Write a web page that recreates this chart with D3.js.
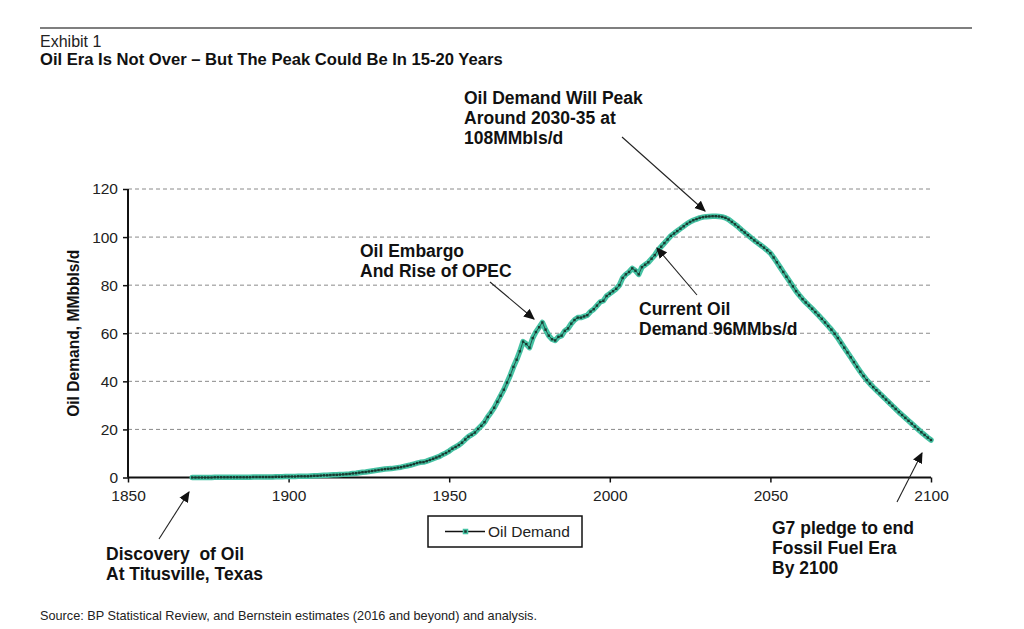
<!DOCTYPE html>
<html>
<head>
<meta charset="utf-8">
<script src="https://cdn.jsdelivr.net/npm/d3@7"></script>
<style>
  body { margin: 0; background: #fff; }
  svg { display: block; font-family: "Liberation Sans", Arial, sans-serif; }
</style>
</head>
<body>
<div id="chart"></div>
<script>
// Data
var startYear = 1870;
var demand = [
  0.0, 0.0, 0.0, 0.0, 0.0, 0.0, 0.0, 0.1, 0.1, 0.1,
  0.1, 0.1, 0.1, 0.1, 0.1, 0.1, 0.1, 0.1, 0.1, 0.2,
  0.2, 0.2, 0.2, 0.2, 0.2, 0.2, 0.3, 0.3, 0.3, 0.4,
  0.4, 0.4, 0.4, 0.5, 0.5, 0.5, 0.5, 0.6, 0.7, 0.7,
  0.8, 0.9, 0.9, 1.0, 1.1, 1.1, 1.2, 1.3, 1.4, 1.5,
  1.7, 1.8, 2.0, 2.2, 2.3, 2.5, 2.7, 2.9, 3.1, 3.3,
  3.5, 3.6, 3.7, 3.9, 4.1, 4.3, 4.6, 4.9, 5.2, 5.6,
  6.0, 6.3, 6.4, 6.8, 7.3, 7.8, 8.3, 8.8, 9.6, 10.2,
  11.0, 12.0, 12.7, 13.5, 14.5, 15.8, 17.0, 17.8, 18.7, 20.2,
  21.5, 23.0, 25.2, 27.0, 29.0, 31.5, 34.0, 36.5, 39.5, 42.5,
  46.0, 49.0, 52.5, 56.5, 55.5, 54.0, 58.0, 60.5, 62.5, 64.5,
  61.5, 59.0, 57.5, 57.0, 58.5, 59.0, 61.0, 62.0, 64.0, 65.5,
  66.5, 66.5, 67.0, 67.5, 69.0, 70.0, 71.5, 73.0, 73.5, 75.5,
  76.5, 77.5, 78.5, 80.0, 83.0, 84.5, 85.5, 87.0, 86.0, 84.5,
  87.5, 88.5, 89.5, 91.0, 92.5, 94.5, 96.0, 97.5, 99.0, 100.5,
  101.5, 102.5, 103.5, 104.5, 105.5, 106.3, 107.0, 107.5, 108.0, 108.3,
  108.5, 108.6, 108.7, 108.7, 108.6, 108.4, 108.0, 107.3, 106.3, 105.3,
  104.2, 103.0, 101.9, 100.8, 99.7, 98.6, 97.6, 96.6, 95.6, 94.5,
  93.3, 91.5, 89.5, 87.5, 85.5, 83.5, 81.5, 79.5, 77.5, 75.8,
  74.2, 72.8, 71.5, 70.2, 68.8, 67.4, 66.0, 64.5, 63.0, 61.5,
  59.8, 58.0, 56.0, 54.0, 52.0, 50.0, 48.0, 46.0, 44.0, 42.2,
  40.5, 39.0, 37.6, 36.3, 35.0, 33.7, 32.4, 31.1, 29.8, 28.5,
  27.2, 26.0, 24.8, 23.6, 22.4, 21.2, 20.0, 18.8, 17.7, 16.6,
  15.6
];
var xTicks = [1850, 1900, 1950, 2000, 2050, 2100];
var yTicks = [0, 20, 40, 60, 80, 100, 120];
var seriesName = "Oil Demand";

var exhibitLabel = "Exhibit 1";
var titleText = "Oil Era Is Not Over \u2013 But The Peak Could Be In 15-20 Years";
var yLabel = "Oil Demand, MMbbls/d";
var sourceText = "Source: BP Statistical Review, and Bernstein estimates (2016 and beyond) and analysis.";

var notePeak = ["Oil Demand Will Peak", "Around 2030-35 at", "108MMbls/d"];
var noteEmbargo = ["Oil Embargo", "And Rise of OPEC"];
var noteCurrent = ["Current Oil", "Demand 96MMbs/d"];
var noteG7 = ["G7 pledge to end", "Fossil Fuel Era", "By 2100"];
var noteDiscovery = ["Discovery  of Oil", "At Titusville, Texas"];

var points = demand.map(function(v, i) { return { year: startYear + i, value: v }; });

var svgWidth = 1024;
var svgHeight = 629;
var margin = { top: 189, left: 128, right: 93, bottom: 151.5 };
var width = svgWidth - margin.left - margin.right;
var height = svgHeight - margin.top - margin.bottom;

var svg = d3.select("#chart")
  .append("svg")
  .attr("width", svgWidth)
  .attr("height", svgHeight);

// arrow head
svg.append("defs").append("marker")
  .attr("id", "arrow")
  .attr("viewBox", "0 0 10 10")
  .attr("refX", 9)
  .attr("refY", 5)
  .attr("markerWidth", 11)
  .attr("markerHeight", 11)
  .attr("markerUnits", "userSpaceOnUse")
  .attr("orient", "auto")
  .append("path")
  .attr("d", "M0,0.5 L10,5 L0,9.5 Z")
  .attr("fill", "#111");

// header
svg.append("line")
  .attr("x1", 40).attr("x2", 972)
  .attr("y1", 28).attr("y2", 28)
  .attr("stroke", "#555")
  .attr("stroke-width", 1.5);

svg.append("text")
  .attr("x", 40).attr("y", 47)
  .style("font-size", "16px")
  .attr("fill", "#222")
  .text(exhibitLabel);

svg.append("text")
  .attr("x", 40).attr("y", 65)
  .style("font-size", "16.6px")
  .style("font-weight", "bold")
  .attr("fill", "#111")
  .text(titleText);

var chartGroup = svg.append("g")
  .attr("transform", `translate(${margin.left}, ${margin.top})`);

var xScale = d3.scaleLinear().domain([1850, 2100]).range([0, width]);
var yScale = d3.scaleLinear().domain([0, 120]).range([height, 0]);

// gridlines
chartGroup.append("g")
  .selectAll("line")
  .data(yTicks.filter(d => d > 0))
  .enter()
  .append("line")
  .attr("x1", 0)
  .attr("x2", width)
  .attr("y1", d => yScale(d))
  .attr("y2", d => yScale(d))
  .attr("stroke", "#8a8a8a")
  .attr("stroke-width", 1)
  .attr("stroke-dasharray", "4,3");

// axes
var bottomAxis = d3.axisBottom(xScale)
  .tickValues(xTicks)
  .tickFormat(d3.format("d"))
  .tickSize(5)
  .tickPadding(7);
var leftAxis = d3.axisLeft(yScale)
  .tickValues(yTicks)
  .tickSize(5)
  .tickPadding(5);

var xAxisG = chartGroup.append("g")
  .attr("transform", `translate(0, ${height})`)
  .call(bottomAxis);
var yAxisG = chartGroup.append("g")
  .call(leftAxis);

[xAxisG, yAxisG].forEach(function(g) {
  g.select(".domain").attr("stroke", "#111").attr("stroke-width", 2);
  g.selectAll(".tick line").attr("stroke", "#111").attr("stroke-width", 1.5);
  g.selectAll(".tick text")
    .style("font-size", "15.5px")
    .style("font-family", "'Liberation Sans', Arial, sans-serif")
    .attr("fill", "#222");
});
xAxisG.select(".domain").attr("d", `M0,0H${width}`);
yAxisG.select(".domain").attr("d", `M0,${height}V0`);

// y axis label
chartGroup.append("text")
  .attr("transform", `translate(-49, ${height / 2}) rotate(-90)`)
  .style("text-anchor", "middle")
  .style("font-size", "15.6px")
  .style("font-weight", "bold")
  .attr("fill", "#111")
  .text(yLabel);

// series
var line = d3.line()
  .x(d => xScale(d.year))
  .y(d => yScale(d.value));

chartGroup.append("path")
  .datum(points)
  .attr("d", line)
  .attr("fill", "none")
  .attr("stroke", "#45c2a3")
  .attr("stroke-width", 5.5)
  .attr("stroke-linejoin", "round")
  .attr("stroke-linecap", "round");

chartGroup.append("path")
  .datum(points)
  .attr("d", line)
  .attr("fill", "none")
  .attr("stroke", "#1d3a33")
  .attr("stroke-width", 0.8);

chartGroup.selectAll("rect.pt")
  .data(points)
  .enter()
  .append("rect")
  .attr("class", "pt")
  .attr("x", d => xScale(d.year) - 1.2)
  .attr("y", d => yScale(d.value) - 1.2)
  .attr("width", 2.4)
  .attr("height", 2.4)
  .attr("fill", "#173a30");

// annotations
function note(lines, x, y, step) {
  var t = svg.append("text")
    .style("font-size", "17.5px")
    .style("font-weight", "bold")
    .style("white-space", "pre")
    .attr("fill", "#111");
  t.selectAll("tspan")
    .data(lines)
    .enter()
    .append("tspan")
    .attr("x", x)
    .attr("y", (d, i) => y + i * step)
    .text(d => d);
}
function arrow(x1, y1, x2, y2) {
  svg.append("line")
    .attr("x1", x1).attr("y1", y1)
    .attr("x2", x2).attr("y2", y2)
    .attr("stroke", "#222")
    .attr("stroke-width", 1.1)
    .attr("marker-end", "url(#arrow)");
}

note(notePeak, 464, 104, 20);
arrow(622, 137, 705, 211);

note(noteEmbargo, 360, 257, 20);
arrow(490, 282, 534, 319);

note(noteCurrent, 639, 315, 20);
arrow(697, 295, 657, 248);

note(noteG7, 772, 534, 20);
arrow(897, 502, 922, 453);

note(noteDiscovery, 106, 560, 20);
arrow(159, 539, 189, 492);

// legend
var legend = svg.append("g").attr("transform", "translate(428, 516)");
legend.append("rect")
  .attr("width", 154)
  .attr("height", 31)
  .attr("fill", "#fff")
  .attr("stroke", "#111")
  .attr("stroke-width", 1.5);
legend.append("line")
  .attr("x1", 17).attr("x2", 57)
  .attr("y1", 15.5).attr("y2", 15.5)
  .attr("stroke", "#111")
  .attr("stroke-width", 1.5);
legend.append("rect")
  .attr("x", 35.5).attr("y", 13.5)
  .attr("width", 4).attr("height", 4)
  .attr("fill", "#173a30")
  .attr("stroke", "#45c2a3")
  .attr("stroke-width", 1.5);
legend.append("text")
  .attr("x", 60).attr("y", 21)
  .style("font-size", "15.5px")
  .attr("fill", "#222")
  .text(seriesName);

// source
svg.append("text")
  .attr("x", 40).attr("y", 620)
  .style("font-size", "12.7px")
  .attr("fill", "#222")
  .text(sourceText);
</script>
</body>
</html>
